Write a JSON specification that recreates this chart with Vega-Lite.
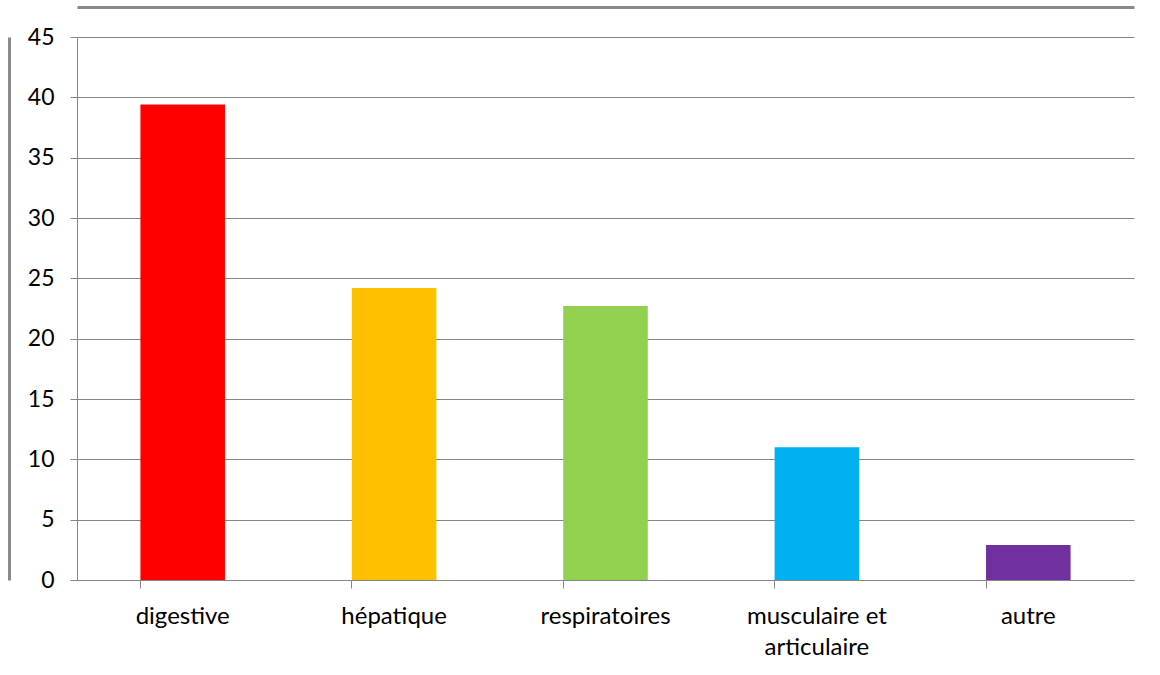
{
  "$schema": "https://vega.github.io/schema/vega-lite/v6.json",
  "width": 1057,
  "height": 543,
  "autosize": "none",
  "padding": {"left": 77, "top": 37, "right": 26, "bottom": 95},
  "background": "white",
  "config": {
    "view": {"stroke": null},
    "font": "Lato",
    "axis": {
      "labelFont": "Lato",
      "labelFontSize": 23,
      "labelColor": "#000000",
      "domainColor": "#868686",
      "tickColor": "#868686",
      "gridColor": "#868686",
      "title": null
    }
  },
  "data": {
    "values": [
      {"categorie": "digestive", "valeur": 39.4},
      {"categorie": "hépatique", "valeur": 24.2},
      {"categorie": "respiratoires", "valeur": 22.7},
      {"categorie": "musculaire et articulaire", "valeur": 11.0},
      {"categorie": "autre", "valeur": 2.9}
    ]
  },
  "layer": [
    {
      "mark": {"type": "bar"},
      "encoding": {
        "x": {
          "field": "categorie",
          "type": "nominal",
          "sort": null,
          "scale": {"paddingInner": 0.6, "paddingOuter": 0.3},
          "axis": {
            "orient": "bottom",
            "labelAngle": 0,
            "bandPosition": 0,
            "tickSize": 8,
            "labelPadding": 16,
            "labelFontSize": 24,
            "labelLineHeight": 31,
            "labelBaseline": "top",
            "labelExpr": "datum.label == 'musculaire et articulaire' ? ['musculaire et', 'articulaire'] : datum.label"
          }
        },
        "y": {
          "field": "valeur",
          "type": "quantitative",
          "scale": {"domain": [0, 45], "nice": false},
          "axis": {
            "orient": "left",
            "values": [0, 5, 10, 15, 20, 25, 30, 35, 40, 45],
            "tickSize": 7,
            "labelPadding": 16,
            "grid": true,
            "labelFontSize": 23
          }
        },
        "color": {
          "field": "categorie",
          "type": "nominal",
          "sort": null,
          "scale": {
            "domain": ["digestive", "hépatique", "respiratoires", "musculaire et articulaire", "autre"],
            "range": ["#FF0000", "#FFC000", "#92D050", "#00B0F0", "#7030A0"]
          },
          "legend": null
        }
      }
    },
    {
      "mark": {"type": "bar", "opacity": 0},
      "encoding": {
        "x": {
          "field": "categorie",
          "type": "nominal",
          "sort": null,
          "scale": {"paddingInner": 0.6, "paddingOuter": 0.3},
          "axis": {
            "orient": "top",
            "offset": 30,
            "labels": false,
            "ticks": false,
            "domainWidth": 3,
            "domainColor": "#8a8a8a"
          }
        },
        "y": {
          "field": "valeur",
          "type": "quantitative",
          "scale": {"domain": [0, 45], "nice": false},
          "axis": {
            "orient": "left",
            "offset": 68,
            "labels": false,
            "ticks": false,
            "grid": false,
            "domainWidth": 3,
            "domainColor": "#8a8a8a"
          }
        }
      }
    }
  ],
  "resolve": {"axis": {"x": "independent", "y": "independent"}}
}
